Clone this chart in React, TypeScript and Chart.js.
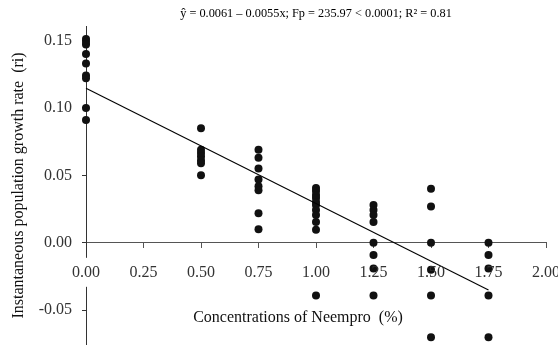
import React, { useEffect, useRef } from 'react';
import { Chart, registerables } from 'chart.js';

Chart.register(...registerables);

const FONT = '"Liberation Serif", "Times New Roman", Times, serif';

// Concentrations of Neempro (%) and observed ri values at each
const concentrations = [0, 0.5, 0.75, 1.0, 1.25, 1.5, 1.75];
const ri000 = [0.151, 0.149, 0.147, 0.14, 0.133, 0.124, 0.122, 0.1, 0.091];
const ri050 = [0.085, 0.069, 0.0665, 0.064, 0.061, 0.059, 0.05];
const ri075 = [0.069, 0.063, 0.055, 0.047, 0.042, 0.039, 0.022, 0.01];
const ri100 = [0.0406, 0.0384, 0.0355, 0.0333, 0.0303, 0.0281, 0.0244, 0.0207, 0.0155, 0.0096, -0.039];
const ri125 = [0.028, 0.0244, 0.0207, 0.0155, 0.0, -0.009, -0.019, -0.039];
const ri150 = [0.04, 0.027, 0.0, -0.02, -0.039, -0.07];
const ri175 = [0.0, -0.009, -0.019, -0.039, -0.07];
const riGroups = [ri000, ri050, ri075, ri100, ri125, ri150, ri175];

// Fitted regression line end points
const fitX = [0, 1.75];
const fitY = [0.1145, -0.035];

const xTickValues = [0, 0.25, 0.5, 0.75, 1.0, 1.25, 1.5, 1.75, 2.0];
const yTickValues = [-0.05, 0, 0.05, 0.1, 0.15];

const chartTitle = 'ŷ = 0.0061 – 0.0055x; Fp = 235.97 < 0.0001; R² = 0.81';
const xTitle = 'Concentrations of Neempro  (%)';
const yTitle = 'Instantaneous population growth rate  (ri)';

const axisMask = {
  id: 'axisMask',
  afterDatasetsDraw(chart: any) {
    const { ctx } = chart;
    const xs = chart.scales.x;
    const ys = chart.scales.y;
    const px = xs.getPixelForValue(0);
    const py = ys.getPixelForValue(0);
    ctx.save();
    ctx.fillStyle = '#ffffff';
    ctx.fillRect(px - 3, py + 15, 6, 29);
    ctx.restore();
  },
};

export default function App() {
  const ref = useRef<HTMLCanvasElement | null>(null);

  useEffect(() => {
    if (!ref.current) return;
    const points: { x: number; y: number }[] = [];
    concentrations.forEach((c, i) => {
      riGroups[i].forEach((v) => points.push({ x: c, y: v }));
    });
    const fit = fitX.map((x, i) => ({ x, y: fitY[i] }));

    const chart = new Chart(ref.current, {
      type: 'scatter',
      data: {
        datasets: [
          {
            type: 'line',
            data: fit,
            borderColor: '#000000',
            borderWidth: 1.1,
            pointRadius: 0,
            fill: false,
            clip: false,
          } as any,
          {
            type: 'scatter',
            data: points,
            backgroundColor: '#111111',
            borderColor: '#111111',
            borderWidth: 0,
            pointRadius: 4,
            clip: false,
          } as any,
        ],
      },
      options: {
        animation: false,
        responsive: false,
        devicePixelRatio: 1,
        layout: { padding: { left: 0, top: 0, right: 12, bottom: 3 } },
        plugins: {
          legend: { display: false },
          tooltip: { enabled: false },
          title: {
            display: true,
            text: chartTitle,
            fullSize: false,
            color: '#000',
            font: { family: FONT, size: 12.3, weight: 'normal' },
            padding: { top: 6.5, bottom: 5.7 },
          },
        },
        scales: {
          x: {
            type: 'linear',
            position: { y: 0 } as any,
            min: 0,
            max: 2,
            afterBuildTicks: (s: any) => {
              s.ticks = xTickValues.map((v) => ({ value: v }));
            },
            afterFit: (s: any) => {
              s.paddingLeft = 0;
              s.paddingRight = 0;
            },
            ticks: {
              z: 1,
              padding: 15,
              color: '#333',
              font: { family: FONT, size: 16 },
              callback: (v: any) => Number(v).toFixed(2),
              maxRotation: 0,
              autoSkip: false,
            },
            grid: { drawOnChartArea: false, drawTicks: true, tickLength: 5, color: '#555' },
            border: { display: true, color: '#555', width: 1 },
            title: {
              display: true,
              text: xTitle + '         ',
              color: '#111',
              font: { family: FONT, size: 16 },
              padding: { top: 11, bottom: 0 },
            },
          },
          y: {
            type: 'linear',
            position: 'left',
            min: -0.075,
            max: 0.16,
            afterBuildTicks: (s: any) => {
              s.ticks = yTickValues.map((v) => ({ value: v }));
            },
            afterFit: (s: any) => {
              s.width = 86;
              s.paddingTop = 0;
              s.paddingBottom = 0;
            },
            ticks: {
              padding: 10,
              color: '#333',
              font: { family: FONT, size: 16 },
              callback: (v: any) => Number(v).toFixed(2),
              autoSkip: false,
            },
            grid: { drawOnChartArea: false, drawTicks: true, tickLength: 4, color: '#333' },
            border: { display: true, color: '#333', width: 1 },
            title: {
              display: true,
              text: yTitle,
              color: '#111',
              font: { family: FONT, size: 16 },
              padding: { top: 9, bottom: 0 },
            },
          },
        },
      },
      plugins: [axisMask],
    });
    return () => chart.destroy();
  }, []);

  return (
    <div style={{ position: 'fixed', left: 0, top: 0, width: 558, height: 348, background: '#fff' }}>
      <canvas ref={ref} width={558} height={348} style={{ display: 'block' }} />
    </div>
  );
}
